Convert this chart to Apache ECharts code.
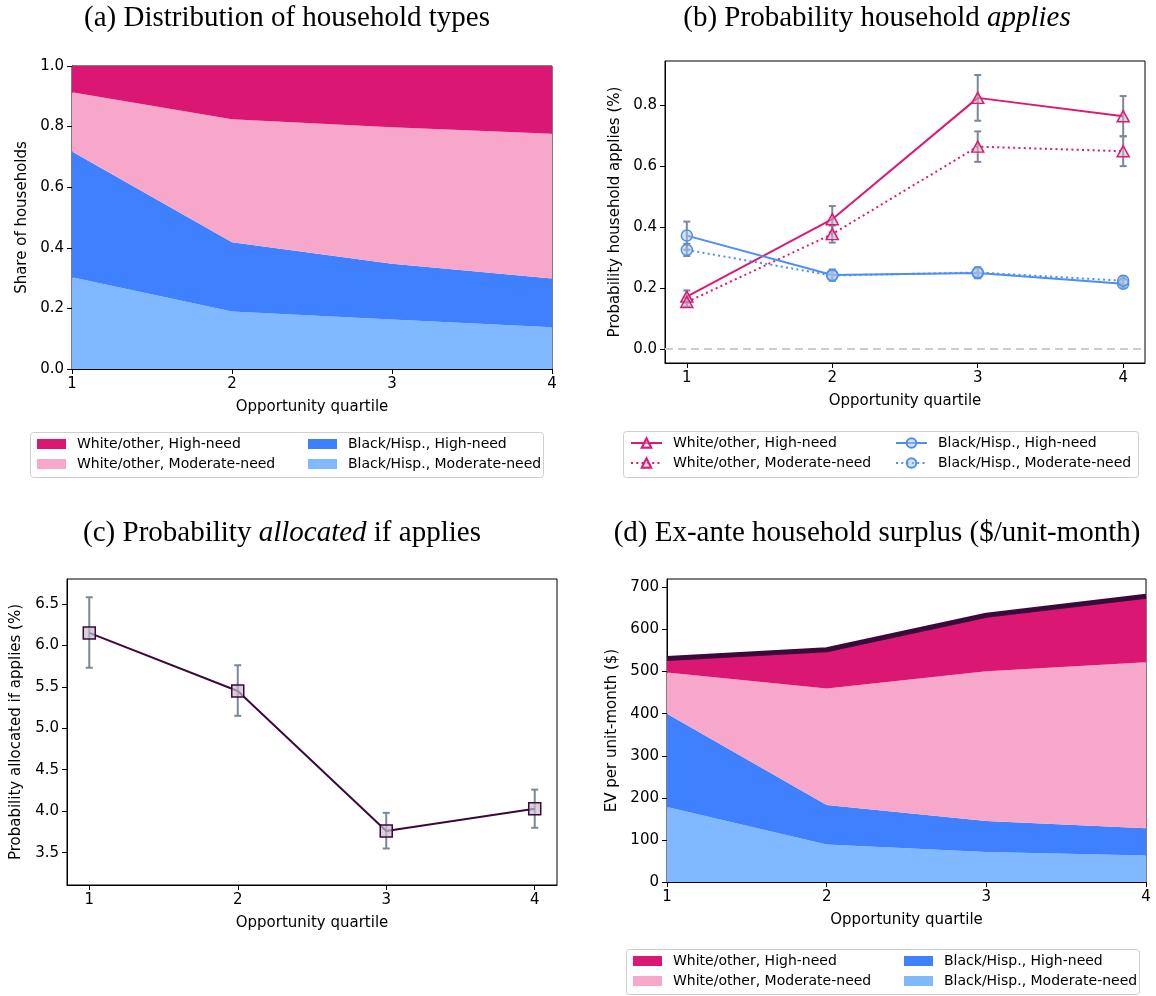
<!DOCTYPE html>
<html><head><meta charset="utf-8">
<script src="https://cdn.jsdelivr.net/npm/echarts@6/dist/echarts.min.js"></script>
<style>html,body{margin:0;padding:0;background:#fff}#c{width:1156px;height:996px}</style>
</head><body><div id="c"></div>
<script>
// ---------- data ----------
const quartiles = [1, 2, 3, 4];
const groupNames = ['White/other, High-need', 'White/other, Moderate-need', 'Black/Hisp., High-need', 'Black/Hisp., Moderate-need'];
const xTicks = [1, 2, 3, 4];

// (a) share of households
const shareWhiteHigh = [0.087, 0.176, 0.202, 0.224];
const shareWhiteMod  = [0.195, 0.406, 0.451, 0.477];
const shareBlackHigh = [0.415, 0.228, 0.184, 0.161];
const shareBlackMod  = [0.303, 0.190, 0.163, 0.138];
const shareTicks = [0, 0.2, 0.4, 0.6, 0.8, 1.0];

// (b) probability household applies
const applyWhiteHigh    = [0.172, 0.426, 0.824, 0.764];
const applyWhiteHighErr = [0.020, 0.043, 0.075, 0.066];
const applyWhiteMod     = [0.154, 0.377, 0.664, 0.649];
const applyWhiteModErr  = [0.015, 0.028, 0.050, 0.049];
const applyBlackHigh    = [0.372, 0.243, 0.249, 0.214];
const applyBlackHighErr = [0.046, 0.018, 0.017, 0.014];
const applyBlackMod     = [0.325, 0.241, 0.251, 0.224];
const applyBlackModErr  = [0.020, 0.017, 0.017, 0.014];
const applyTicks = [0, 0.2, 0.4, 0.6, 0.8];

// (c) probability allocated if applies
const allocProb = [6.15, 5.45, 3.76, 4.03];
const allocLow  = [5.73, 5.15, 3.55, 3.80];
const allocHigh = [6.58, 5.76, 3.98, 4.26];
const allocTicks = [3.5, 4.0, 4.5, 5.0, 5.5, 6.0, 6.5];

// (d) ex-ante household surplus
const evWhiteHigh = [33, 92, 133, 157];
const evWhiteMod  = [98, 277, 356, 394];
const evBlackHigh = [222, 94, 74, 65];
const evBlackMod  = [178, 89, 71, 63];
const evTicks = [0, 100, 200, 300, 400, 500, 600, 700];

// ---------- styles ----------
const C_WH = '#DA1874', C_WM = '#F7A8CA', C_BH = '#3F80FF', C_BM = '#80B9FF';
const C_LINE_M = '#DB1A74', C_LINE_B = '#4A8FF5';
const C_DARK = '#3A0A3A', C_ERR = '#7A8898';
const SANS = 'DejaVu Sans', SERIF = 'Liberation Serif';

const pts = (arr) => quartiles.map((q, i) => [q, arr[i]]);
const errPts = (vals, errs) => quartiles.map((q, i) => [q, vals[i] - errs[i], vals[i] + errs[i]]);
const lohiPts = (lo, hi) => quartiles.map((q, i) => [q, lo[i], hi[i]]);
const sumArr = (...arrs) => quartiles.map((q, i) => arrs.reduce((s, a) => s + a[i], 0));

function errRender(params, api) {
  const x = api.value(0), lo = api.value(1), hi = api.value(2);
  const p1 = api.coord([x, lo]), p2 = api.coord([x, hi]);
  const cw = 3.5;
  const style = { stroke: C_ERR, lineWidth: 2 };
  return { type: 'group', children: [
    { type: 'line', shape: { x1: p1[0], y1: p1[1], x2: p2[0], y2: p2[1] }, style },
    { type: 'line', shape: { x1: p1[0] - cw, y1: p1[1], x2: p1[0] + cw, y2: p1[1] }, style },
    { type: 'line', shape: { x1: p2[0] - cw, y1: p2[1], x2: p2[0] + cw, y2: p2[1] }, style }
  ]};
}

const axisName = { fontFamily: SANS, fontSize: 15, color: '#000' };
const axisLine = { show: true, onZero: false, lineStyle: { color: '#000', width: 1 } };
function xValueAxis(grid, min, max) {
  return {
    type: 'value', gridIndex: grid, min, max,
    name: 'Opportunity quartile', nameLocation: 'middle', nameGap: 31, nameTextStyle: axisName,
    axisLine,
    axisTick: { show: true, length: 5, customValues: xTicks, lineStyle: { color: '#000' } },
    axisLabel: { customValues: xTicks, fontFamily: SANS, fontSize: 15, color: '#000', margin: 8 },
    splitLine: { show: false }
  };
}
function xCatAxis(grid) {
  return {
    type: 'category', gridIndex: grid, data: xTicks.map(String), boundaryGap: false,
    name: 'Opportunity quartile', nameLocation: 'middle', nameGap: 31, nameTextStyle: axisName,
    axisLine,
    axisTick: { show: true, length: 5, interval: 0, lineStyle: { color: '#000' } },
    axisLabel: { interval: 0, fontFamily: SANS, fontSize: 15, color: '#000', margin: 8 },
    splitLine: { show: false }
  };
}
function yAxis(grid, min, max, ticks, name, gap, dec) {
  return {
    type: 'value', gridIndex: grid, min, max,
    name, nameLocation: 'middle', nameGap: gap, nameTextStyle: axisName,
    axisLine,
    axisTick: { show: true, length: 5, customValues: ticks, lineStyle: { color: '#000' } },
    axisLabel: { customValues: ticks, fontFamily: SANS, fontSize: 15, color: '#000', margin: 8,
      formatter: v => Number(v).toFixed(dec) },
    splitLine: { show: false }
  };
}

function areaSeries(name, arr, color, xi, stack) {
  return { name, type: 'line', xAxisIndex: xi, yAxisIndex: xi, stack, data: arr,
    symbol: 'none', color, lineStyle: { width: 0 }, areaStyle: { color, opacity: 1 },
    itemStyle: { color }, z: 2, silent: true, animation: false };
}
function lineSeries(name, arr, lineColor, fill, symbol, size, dotted) {
  return { name, type: 'line', xAxisIndex: 1, yAxisIndex: 1, data: pts(arr),
    symbol, symbolSize: size, showAllSymbol: true,
    lineStyle: { color: lineColor, width: 2, type: dotted ? [2, 3.3] : 'solid' },
    itemStyle: { color: fill, borderColor: lineColor, borderWidth: 1.5 },
    z: 3, animation: false };
}
function errSeries(xi, data) {
  return { type: 'custom', xAxisIndex: xi, yAxisIndex: xi, data, renderItem: errRender,
    encode: { x: 0, y: [1, 2] }, z: 2, silent: true, animation: false };
}

// legends: one component per item, placed in 2 columns
function legendItem(name, left, top, rectIcon) {
  const l = { data: [name], left, top, padding: 0, orient: 'horizontal',
    itemWidth: rectIcon ? 29 : 31, itemHeight: rectIcon ? 10 : 12,
    formatter: n => n.split('#')[0], selectedMode: false,
    textStyle: { fontFamily: SANS, fontSize: 14, color: '#000', lineHeight: 16, padding: [0, 0, 0, 6] } };
  if (rectIcon) l.icon = 'rect';
  return l;
}
function legendBlock(suffix, boxLeft, boxTop, rectIcon, col2) {
  const r1 = boxTop + 4, r2 = boxTop + 24;
  return [
    legendItem(groupNames[0] + suffix, boxLeft + 7, r1, rectIcon),
    legendItem(groupNames[1] + suffix, boxLeft + 7, r2, rectIcon),
    legendItem(groupNames[2] + suffix, boxLeft + col2, r1, rectIcon),
    legendItem(groupNames[3] + suffix, boxLeft + col2, r2, rectIcon)
  ];
}
function legendBox(x, y, w, h) {
  return { type: 'rect', shape: { x, y, width: w, height: h, r: 3 },
    style: { fill: 'rgba(255,255,255,0.8)', stroke: '#cfcfcf', lineWidth: 1 }, z: -1 };
}
function title(x, y, text) {
  return { type: 'text', x, y, style: { text, font: '29px ' + SERIF, fill: '#000',
    align: 'center', verticalAlign: 'middle',
    rich: { i: { fontStyle: 'italic', fontSize: 29, fontFamily: SERIF } } } };
}

const chart = echarts.init(document.getElementById('c'), null, { renderer: 'canvas' });
chart.setOption({
  backgroundColor: '#fff',
  animation: false,
  grid: [
    { left: 72, top: 66, width: 480, height: 303, show: true, borderColor: '#000', borderWidth: 1 },
    { left: 665, top: 61, width: 480, height: 302, show: true, borderColor: '#000', borderWidth: 1 },
    { left: 67, top: 579, width: 490, height: 306, show: true, borderColor: '#000', borderWidth: 1 },
    { left: 667, top: 579, width: 479, height: 303, show: true, borderColor: '#000', borderWidth: 1 }
  ],
  xAxis: [
    xCatAxis(0),
    xValueAxis(1, 0.85, 4.15),
    xValueAxis(2, 0.85, 4.15),
    xCatAxis(3)
  ],
  yAxis: [
    yAxis(0, 0, 1, shareTicks, 'Share of households', 42, 1),
    yAxis(1, -0.046, 0.945, applyTicks, 'Probability household applies (%)', 42, 1),
    yAxis(2, 3.11, 6.80, allocTicks, 'Probability allocated if applies (%)', 43, 1),
    yAxis(3, 0, 720, evTicks, 'EV per unit-month ($)', 47, 0)
  ],
  legend: [
    ...legendBlock('#a', 30, 432, true, 278),
    ...legendBlock('#b', 623, 431, false, 272),
    ...legendBlock('#d', 626, 949, true, 278)
  ],
  graphic: [
    legendBox(30.5, 432.5, 513, 45),
    legendBox(623.5, 431.5, 515, 46),
    legendBox(626.5, 949.5, 513, 45),
    title(287, 18, '(a) Distribution of household types'),
    title(877, 18, '(b) Probability household {i|applies}'),
    title(282, 533, '(c) Probability {i|allocated} if applies'),
    title(877, 533, '(d) Ex-ante household surplus ($/unit-month)')
  ],
  series: [
    // (a)
    areaSeries(groupNames[3] + '#a', shareBlackMod, C_BM, 0, 'a'),
    areaSeries(groupNames[2] + '#a', shareBlackHigh, C_BH, 0, 'a'),
    areaSeries(groupNames[1] + '#a', shareWhiteMod, C_WM, 0, 'a'),
    areaSeries(groupNames[0] + '#a', shareWhiteHigh, C_WH, 0, 'a'),
    // (b)
    errSeries(1, errPts(applyWhiteHigh, applyWhiteHighErr)),
    errSeries(1, errPts(applyWhiteMod, applyWhiteModErr)),
    errSeries(1, errPts(applyBlackHigh, applyBlackHighErr)),
    errSeries(1, errPts(applyBlackMod, applyBlackModErr)),
    Object.assign(lineSeries(groupNames[0] + '#b', applyWhiteHigh, C_LINE_M, 'rgba(200,185,200,0.55)', 'triangle', [12, 11], false), {
      markLine: { silent: true, symbol: ['none', 'none'], label: { show: false },
        lineStyle: { color: '#cccccc', type: [8, 5], width: 2 }, data: [{ yAxis: 0 }], animation: false }
    }),
    lineSeries(groupNames[1] + '#b', applyWhiteMod, C_LINE_M, 'rgba(200,185,200,0.55)', 'triangle', [12, 11], true),
    lineSeries(groupNames[2] + '#b', applyBlackHigh, C_LINE_B, 'rgba(175,195,225,0.5)', 'circle', 11, false),
    lineSeries(groupNames[3] + '#b', applyBlackMod, C_LINE_B, 'rgba(175,195,225,0.5)', 'circle', 11, true),
    // (c)
    errSeries(2, lohiPts(allocLow, allocHigh)),
    { name: 'alloc', type: 'line', xAxisIndex: 2, yAxisIndex: 2, data: pts(allocProb),
      symbol: 'rect', symbolSize: 12, showAllSymbol: true,
      lineStyle: { color: C_DARK, width: 2 },
      itemStyle: { color: 'rgba(200,188,205,0.7)', borderColor: C_DARK, borderWidth: 1.5 }, z: 3 },
    // (d)
    areaSeries(groupNames[3] + '#d', evBlackMod, C_BM, 3, 'd'),
    areaSeries(groupNames[2] + '#d', evBlackHigh, C_BH, 3, 'd'),
    areaSeries(groupNames[1] + '#d', evWhiteMod, C_WM, 3, 'd'),
    areaSeries(groupNames[0] + '#d', evWhiteHigh, C_WH, 3, 'd'),
    { name: 'total', type: 'line', xAxisIndex: 3, yAxisIndex: 3,
      data: sumArr(evBlackMod, evBlackHigh, evWhiteMod, evWhiteHigh),
      symbol: 'none', lineStyle: { color: C_DARK, width: 5, cap: 'butt' }, z: 4, silent: true }
  ]
});
</script>
</body></html>
